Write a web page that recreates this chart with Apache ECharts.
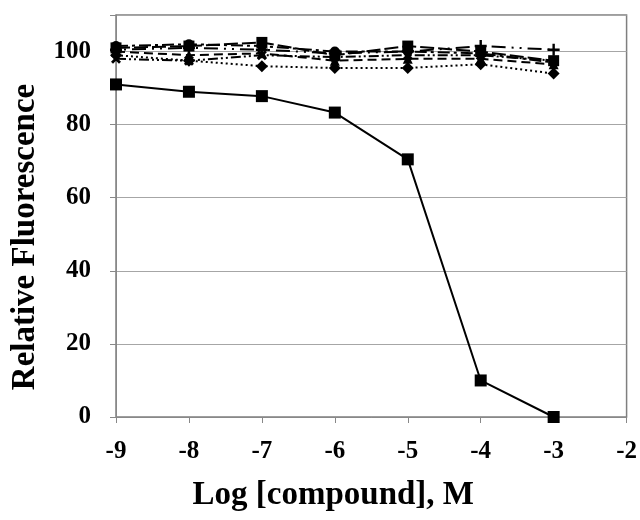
<!DOCTYPE html>
<html>
<head>
<meta charset="utf-8">
<script src="https://cdn.jsdelivr.net/npm/echarts@6/dist/echarts.min.js"></script>
<style>html,body{margin:0;padding:0;background:#fff;}#c{width:640px;height:520px;}</style>
</head>
<body>
<div id="c"></div>
<script>
const logConc = [-9, -8, -7, -6, -5, -4, -3];
const xTicks = [-9, -8, -7, -6, -5, -4, -3, -2];
const yTicks = [0, 20, 40, 60, 80, 100];
const seriesSolid = [91, 89, 87.8, 83.3, 70.5, 10, 0];
const seriesDotted = [99, 97.5, 96, 95.5, 95.5, 96.5, 94];
const seriesDashed = [100, 99, 99.5, 97.5, 98, 98, 96.5];
const seriesDashDot = [101.5, 102, 101.5, 100, 100, 99.5, 97];
const seriesDashDotDot = [98, 97.5, 99, 98.5, 99, 99, 97.5];
const seriesLongDash = [101, 101.5, 102.5, 99, 101.5, 100, 97.5];
const seriesPlus = [100.5, 101, 100.5, 99.5, 100, 101.5, 100.5];

const crossPath = 'path://M2,0 L5,3 L8,0 L10,2 L7,5 L10,8 L8,10 L5,7 L2,10 L0,8 L3,5 L0,2 Z';
const plusPath = 'path://M4,0 H6 V4 H10 V6 H6 V10 H4 V6 H0 V4 H4 Z';

function mk(data, dash, symbol, size) {
  return {
    type: 'line',
    data: logConc.map((x, i) => [x, data[i]]),
    symbol: symbol,
    symbolSize: size,
    clip: false,
    lineStyle: { color: '#000', width: 2, type: dash },
    itemStyle: { color: '#000' },
    z: 3
  };
}

const chart = echarts.init(document.getElementById('c'));
chart.setOption({
  animation: false,
  grid: { left: 116, right: 13, top: 15, bottom: 103, show: true, borderColor: '#7f7f7f', borderWidth: 1.5, backgroundColor: '#fff' },
  xAxis: {
    type: 'value', min: -9, max: -2, interval: 1,
    name: 'Log [compound], M', nameLocation: 'middle', nameGap: 62,
    nameTextStyle: { fontFamily: 'Liberation Serif', fontWeight: 'bold', fontSize: 33, color: '#000', padding: [0, 76, 0, 0] },
    axisLine: { show: true, onZero: false, lineStyle: { color: '#888', width: 1 } },
    axisTick: { show: true, length: 6, lineStyle: { color: '#888' } },
    axisLabel: { margin: 22, fontFamily: 'Liberation Serif', fontWeight: 'bold', fontSize: 25, color: '#000',
      formatter: v => xTicks.includes(v) ? String(v) : '' },
    splitLine: { show: false }
  },
  yAxis: {
    type: 'value', min: 0, max: 110, interval: 20,
    name: 'Relative Fluorescence', nameLocation: 'middle', nameGap: 74, nameRotate: 90,
    nameTextStyle: { fontFamily: 'Liberation Serif', fontWeight: 'bold', fontSize: 33, color: '#000', padding: [0, 42, 0, 0] },
    axisLine: { show: true, lineStyle: { color: '#888', width: 1 } },
    axisTick: { show: true, length: 6, lineStyle: { color: '#888' } },
    axisLabel: { margin: 25, fontFamily: 'Liberation Serif', fontWeight: 'bold', fontSize: 25, color: '#000',
      formatter: v => yTicks.includes(v) ? String(v) : '' },
    splitLine: { show: true, lineStyle: { color: '#a6a6a6', width: 1 } }
  },
  series: [
    mk(seriesSolid, 'solid', 'rect', 12),
    mk(seriesDotted, [2, 3], 'diamond', 12),
    mk(seriesDashed, [9, 5], 'triangle', 10),
    mk(seriesDashDot, [12, 4, 3, 4], 'circle', 10),
    mk(seriesDashDotDot, [10, 3, 2, 3, 2, 3], crossPath, 10),
    mk(seriesLongDash, [14, 4], 'rect', 11),
    mk(seriesPlus, [2, 6, 2, 6, 14, 6], plusPath, 12)
  ]
});
</script>
</body>
</html>
